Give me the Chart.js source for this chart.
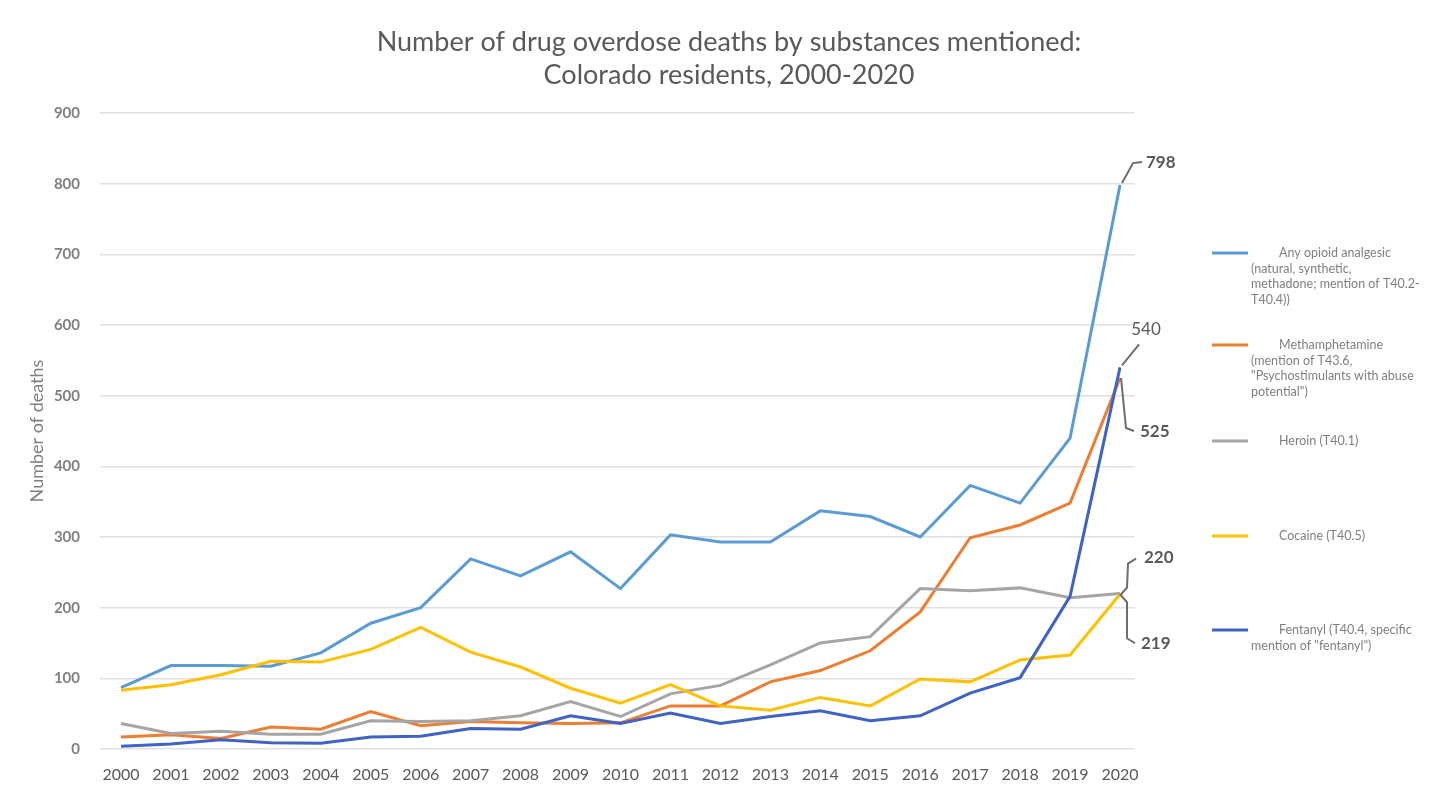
<!doctype html>
<html>
<head>
    <title>Drug overdose deaths: Colorado</title>
    <script src="https://cdn.jsdelivr.net/npm/chart.js"></script>
    <style>
        html, body { margin: 0; padding: 0; background: #fff; }
        #wrap { width: 1439px; height: 786px; position: relative; }
    </style>
</head>
<body>
    <div id="wrap"><canvas id="chart" width="1439" height="786"></canvas></div>

    <script>
        // Data
        var years = ['2000','2001','2002','2003','2004','2005','2006','2007','2008','2009','2010',
                     '2011','2012','2013','2014','2015','2016','2017','2018','2019','2020'];
        var opioid   = [87, 118, 118, 117, 136, 178, 200, 269, 245, 279, 227, 303, 293, 293, 337, 329, 300, 373, 348, 440, 798];
        var meth     = [17, 20, 15, 31, 28, 53, 33, 39, 37, 36, 37, 61, 61, 95, 111, 139, 194, 299, 317, 348, 525];
        var heroin   = [36, 22, 25, 21, 21, 40, 39, 40, 47, 67, 46, 78, 90, 119, 150, 159, 227, 224, 228, 214, 220];
        var cocaine  = [83, 91, 105, 124, 123, 141, 172, 137, 116, 86, 65, 91, 61, 55, 73, 61, 99, 95, 126, 133, 219];
        var fentanyl = [4, 7, 13, 9, 8, 17, 18, 29, 28, 47, 36, 51, 36, 46, 54, 40, 47, 79, 101, 216, 540];

        var seriesNames = ['Any opioid analgesic', 'Methamphetamine', 'Heroin (T40.1)', 'Cocaine (T40.5)', 'Fentanyl'];
        // legend text, line by line, as in the picture
        var legendLines = [
            ['Any opioid analgesic', '(natural, synthetic,', 'methadone; mention of T40.2-', 'T40.4))'],
            ['Methamphetamine', '(mention of T43.6,', '"Psychostimulants with abuse', 'potential")'],
            ['Heroin (T40.1)'],
            ['Cocaine (T40.5)'],
            ['Fentanyl (T40.4, specific', 'mention of "fentanyl")']
        ];
        var titleLines = ['Number of drug overdose deaths by substances mentioned:', 'Colorado residents, 2000-2020'];
        var yTicks = [0, 100, 200, 300, 400, 500, 600, 700, 800, 900];

        var colors = ['#5B9BD5', '#ED7D31', '#A5A5A5', '#FFC000', '#3F62C6'];
        var FONT = 'Lato, "Open Sans", sans-serif';

        // Title drawn centered where the original sits
        var titlePlugin = {
            id: 'bigTitle',
            afterDraw: function(chart) {
                var ctx = chart.ctx;
                ctx.save();
                ctx.fillStyle = '#595959';
                ctx.font = '27px ' + FONT;
                ctx.textAlign = 'center';
                ctx.textBaseline = 'middle';
                ctx.fillText(titleLines[0], 729, 42);
                ctx.fillText(titleLines[1], 729, 75);
                ctx.restore();
            }
        };

        // Right hand legend
        var legendPlugin = {
            id: 'sideLegend',
            afterDraw: function(chart) {
                var ctx = chart.ctx;
                var rows = [253, 345, 441, 536, 630];
                ctx.save();
                ctx.font = '12.5px ' + FONT;
                ctx.fillStyle = '#7f7f7f';
                ctx.textBaseline = 'middle';
                for (var i = 0; i < legendLines.length; i++) {
                    var y = rows[i];
                    ctx.strokeStyle = colors[i];
                    ctx.lineWidth = 3;
                    ctx.beginPath();
                    ctx.moveTo(1212, y);
                    ctx.lineTo(1248, y);
                    ctx.stroke();
                    for (var k = 0; k < legendLines[i].length; k++) {
                        ctx.fillText(legendLines[i][k], k == 0 ? 1279 : 1251, y + k * 15.7);
                    }
                }
                ctx.restore();
            }
        };

        // Value callouts at 2020
        var callouts = [
            { ds: 0, text: '798', path: [[2, -2], [13, -22], [22, -23]], tx: 26, ty: -23, bold: true },
            { ds: 4, text: '540', path: [[2, -2], [19, -23]], tx: 26, ty: -38, bold: false, center: true },
            { ds: 1, text: '525', path: [[1, 0], [6, 50], [14, 53]], tx: 20, ty: 54, bold: true },
            { ds: 2, text: '220', path: [[0, 2], [7, -6], [8, -30], [16, -35]], tx: 24, ty: -36, bold: true },
            { ds: 3, text: '219', path: [[0, 0], [7, 8], [7, 44], [15, 49]], tx: 21, ty: 49, bold: true }
        ];
        var calloutPlugin = {
            id: 'callouts',
            afterDatasetsDraw: function(chart) {
                var ctx = chart.ctx, xs = chart.scales.x, ys = chart.scales.y;
                var last = years.length - 1;
                ctx.save();
                callouts.forEach(function(c) {
                    var px = xs.getPixelForValue(last);
                    var py = ys.getPixelForValue(allSeries[c.ds][last]);
                    ctx.strokeStyle = '#6d6d6d';
                    ctx.lineWidth = 2;
                    ctx.beginPath();
                    ctx.moveTo(px + c.path[0][0], py + c.path[0][1]);
                    for (var j = 1; j < c.path.length; j++) ctx.lineTo(px + c.path[j][0], py + c.path[j][1]);
                    ctx.stroke();
                    ctx.fillStyle = '#595959';
                    ctx.font = (c.bold ? 'bold ' : '') + '17px ' + FONT;
                    ctx.textBaseline = 'middle';
                    ctx.textAlign = c.center ? 'center' : 'left';
                    ctx.fillText(c.text, px + c.tx, py + c.ty);
                });
                ctx.restore();
            }
        };

        var allSeries = [opioid, meth, heroin, cocaine, fentanyl];
        var datasets = allSeries.map(function(d, i) {
            return {
                label: seriesNames[i],
                data: d.map(function(v, j) { return { x: j, y: v }; }),
                borderColor: colors[i],
                backgroundColor: colors[i],
                borderWidth: 3,
                pointRadius: 0,
                tension: 0,
                order: allSeries.length - i
            };
        });

        var ctx = document.getElementById('chart').getContext('2d');
        var chart = new Chart(ctx, {
            type: 'line',
            data: { datasets: datasets },
            options: {
                responsive: false,
                animation: false,
                layout: { padding: { top: 113, right: 304, bottom: 0, left: 0 } },
                plugins: {
                    legend: { display: false },
                    title: { display: false },
                    tooltip: { enabled: false }
                },
                scales: {
                    x: {
                        type: 'linear',
                        min: -0.42,
                        max: 20.3,
                        afterBuildTicks: function(s) { s.ticks = years.map(function(y, j) { return { value: j }; }); },
                        grid: { display: false, drawTicks: false },
                        border: { display: false },
                        ticks: {
                            color: '#595959',
                            font: { family: FONT, size: 16 },
                            padding: 16,
                            maxRotation: 0,
                            autoSkip: false,
                            callback: function(v) { return years[v]; }
                        },
                        afterFit: function(s) { s.height = 37; }
                    },
                    y: {
                        min: 0,
                        max: 900,
                        afterBuildTicks: function(s) { s.ticks = yTicks.map(function(v) { return { value: v }; }); },
                        grid: { color: '#e0e0e0', lineWidth: 1.5, drawTicks: false },
                        border: { display: false },
                        ticks: {
                            color: '#7f7f7f',
                            font: { family: FONT, size: 15, weight: 'bold' },
                            padding: 20
                        },
                        title: {
                            display: true,
                            text: 'Number of deaths',
                            color: '#7f7f7f',
                            font: { family: FONT, size: 18 },
                            padding: { top: 26, bottom: 0 }
                        },
                        afterFit: function(s) { s.width = 100; }
                    }
                }
            },
            plugins: [titlePlugin, legendPlugin, calloutPlugin]
        });
    </script>
</body>
</html>
